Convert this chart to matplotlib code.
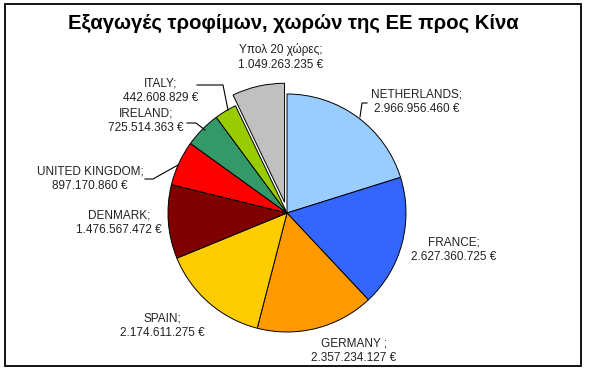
import matplotlib
matplotlib.use('Agg')
import matplotlib.pyplot as plt
from matplotlib.patches import Rectangle

# data
countries = ['NETHERLANDS', 'FRANCE', 'GERMANY ', 'SPAIN', 'DENMARK', 'UNITED KINGDOM',
             'IRELAND', 'ITALY', 'Υπολ 20 χώρες']
values = [2966956460, 2627360725, 2357234127, 2174611275, 1476567472, 897170860,
          725514363, 442608829, 1049263235]
colors = ['#99CCFF', '#3366FF', '#FF9900', '#FFCC00', '#800000', '#FF0000',
          '#339966', '#99CC00', '#C0C0C0']
explode_px = [0, 0, 0, 0, 0, 0, 0, 0, 11]

W, H = 589, 373
plt.rcParams['font.family'] = ['Liberation Sans', 'DejaVu Sans']

fig = plt.figure(figsize=(W / 100, H / 100), dpi=100)
ax = fig.add_axes([0, 0, 1, 1])
ax.set_xlim(0, W)
ax.set_ylim(0, H)
ax.set_aspect('equal')
ax.axis('off')


def fy(y):
    # image row -> data y
    return H - y


def fmt(v):
    return '{:,}'.format(v).replace(',', '.') + ' €'


ax.add_patch(Rectangle((5, fy(366)), 576, 362, fill=False, edgecolor='black', lw=1.3))

wedges, _ = ax.pie(values, colors=colors, explode=explode_px, startangle=90, counterclock=False,
                   center=(287, fy(213)), radius=119,
                   wedgeprops=dict(edgecolor='black', linewidth=0.7))
ax.set_xlim(0, W)
ax.set_ylim(0, H)

ax.text(293, fy(23), 'Εξαγωγές τροφίμων, χωρών της ΕΕ προς Κίνα', ha='center', va='center',
        fontsize=14.6, fontweight='bold')

# label positions (image pixels)
label_pos = [(417, 102), (454, 250), (354, 351), (162, 326), (119, 223), (90, 179),
             (146, 121), (161, 91), (281, 57)]
for name, v, (x, y) in zip(countries, values, label_pos):
    ax.text(x, fy(y), name + ';\n' + fmt(v), ha='center', va='center', fontsize=8.5,
            color='#222222', linespacing=1.25)

# leader lines
leaders = [
    [(367, 103), (362, 103), (360, 117)],
    [(197, 85), (223, 85), (228, 110)],
    [(187, 123), (196, 123), (205, 130)],
    [(145, 179), (153, 179), (178, 165)],
]
for pts in leaders:
    ax.plot([p[0] for p in pts], [fy(p[1]) for p in pts], color='black', lw=0.8)

fig.savefig('out.png', dpi=100, facecolor='white')
